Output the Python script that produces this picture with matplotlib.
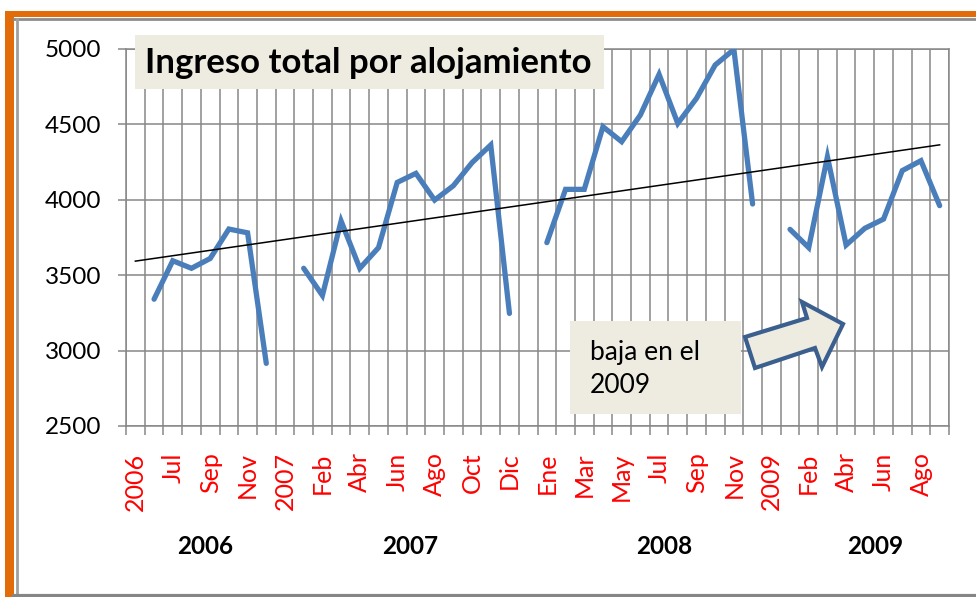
import numpy as np
import matplotlib
matplotlib.use("Agg")
import matplotlib.pyplot as plt
from matplotlib.patches import Rectangle, Polygon
from matplotlib.lines import Line2D

# ---------------- data ----------------
categories = ["2006", "Jun", "Jul", "Ago", "Sep", "Oct", "Nov", "Dic",
              "2007", "Ene", "Feb", "Mar", "Abr", "May", "Jun", "Jul", "Ago", "Sep", "Oct", "Nov", "Dic",
              "2008", "Ene", "Feb", "Mar", "Abr", "May", "Jun", "Jul", "Ago", "Sep", "Oct", "Nov", "Dic",
              "2009", "Ene", "Feb", "Mar", "Abr", "May", "Jun", "Jul", "Ago", "Sep"]
nan = np.nan
ingreso = [nan, 3340, 3595, 3545, 3610, 3805, 3780, 2915,
           nan, 3545, 3365, 3858, 3545, 3682, 4114, 4174, 3997, 4092, 4245, 4362, 3246,
           nan, 3715, 4068, 4068, 4483, 4384, 4561, 4830, 4505, 4671, 4892, 4995, 3971,
           nan, 3803, 3682, 4284, 3699, 3810, 3871, 4192, 4258, 3960]
group_labels = ["2006", "2007", "2008", "2009"]
group_pos = [3.72, 14.7, 28.26, 39.56]   # category-axis positions of the year labels
title = "Ingreso total por alojamiento"
note = "baja en el\n2009"

# ---------------- figure ----------------
W, H = 976, 597
DPI = 100
fig = plt.figure(figsize=(W / DPI, H / DPI), dpi=DPI)
FONT = "Lato"

def fx(x):
    return x / W

def fy(y):
    return 1 - y / H

GRID = "#878787"
left, right, top, bottom = 126, 949, 48.7, 426
ax = fig.add_axes([fx(left), fy(bottom), fx(right) - fx(left), fy(top) - fy(bottom)])

n = len(categories)
x = np.arange(n)
y = np.array(ingreso, dtype=float)

ax.plot(x, y, color="#4A7EBB", lw=3.8, solid_capstyle="round", solid_joinstyle="miter", zorder=3)

# linear trendline
mask = ~np.isnan(y)
coef = np.polyfit(x[mask], y[mask], 1)
xt = np.array([0, n - 1])
ax.plot(xt, np.polyval(coef, xt), color="black", lw=1.1, zorder=4)

ax.set_xlim(-0.5, n - 0.5)
ax.set_ylim(2500, 5000)
ax.set_yticks(np.arange(2500, 5001, 500))
ax.set_yticklabels([str(v) for v in range(2500, 5001, 500)], fontsize=17.5, family=FONT)

ax.set_xticks(x[::2])
ax.set_xticklabels(categories[::2], rotation=90, color="red", fontsize=18, family=FONT,
                   ha="center", va="top")
ax.set_xticks(np.arange(-0.5, n, 1.0), minor=True)
ax.tick_params(axis="x", which="major", length=0, pad=19)
ax.tick_params(axis="x", which="minor", length=6.5, width=1.1, color=GRID, direction="out")
ax.tick_params(axis="y", which="major", length=6, width=1.1, color=GRID, pad=12)

ax.grid(True, axis="x", which="minor", color=GRID, lw=1.1)
ax.grid(True, axis="y", which="major", color=GRID, lw=1.1)
for s in ax.spines.values():
    s.set_color(GRID)
    s.set_linewidth(1.1)
ax.set_axisbelow(True)

# year group labels
for lab, p in zip(group_labels, group_pos):
    xf = fx(left + (p + 0.5) * (right - left) / n)
    fig.text(xf, fy(547), lab, ha="center", va="center", fontsize=17.5, fontweight="bold",
             family=FONT)

# title box
fig.add_artist(Rectangle((fx(135), fy(89)), fx(604) - fx(135), fy(35) - fy(89),
                         transform=fig.transFigure, facecolor="#EEECE1", edgecolor="none", zorder=5))
fig.text(fx(145), fy(63), title, ha="left", va="center", fontsize=25, fontweight="bold",
         family=FONT, zorder=6)

# note box
fig.add_artist(Rectangle((fx(570), fy(414)), fx(741) - fx(570), fy(321) - fy(414),
                         transform=fig.transFigure, facecolor="#EEECE1", edgecolor="none", zorder=5))
fig.text(fx(590), fy(369), note, ha="left", va="center", fontsize=19, family=FONT,
         linespacing=1.4, zorder=6)

# block arrow
arrow_px = [(745, 337), (807, 318), (802, 302), (843, 324), (822, 367), (815, 348), (755, 368)]
fig.add_artist(Polygon([(fx(a), fy(b)) for a, b in arrow_px], closed=True,
                       transform=fig.transFigure, facecolor="#EEECE1", edgecolor="#3B5F8E",
                       lw=3, joinstyle="miter", zorder=5))

# outer frame
fig.add_artist(Rectangle((fx(5), 0), fx(14) - fx(5), fy(11), transform=fig.transFigure,
                         facecolor="#E36C0A", edgecolor="none", zorder=7))
fig.add_artist(Rectangle((fx(5), fy(17)), 1, fy(11) - fy(17), transform=fig.transFigure,
                         facecolor="#E36C0A", edgecolor="none", zorder=7))
fig.add_artist(Line2D([fx(14), 1], [fy(19), fy(19)], transform=fig.transFigure,
                      color="#8C8C8C", lw=2, zorder=7))
fig.add_artist(Line2D([fx(17), fx(17)], [fy(19), fy(595)], transform=fig.transFigure,
                      color="#A0A0A0", lw=2, zorder=7))
fig.add_artist(Line2D([fx(14), 1], [fy(595.5), fy(595.5)], transform=fig.transFigure,
                      color="#858585", lw=3, zorder=7))

fig.savefig("out.png", dpi=DPI)
